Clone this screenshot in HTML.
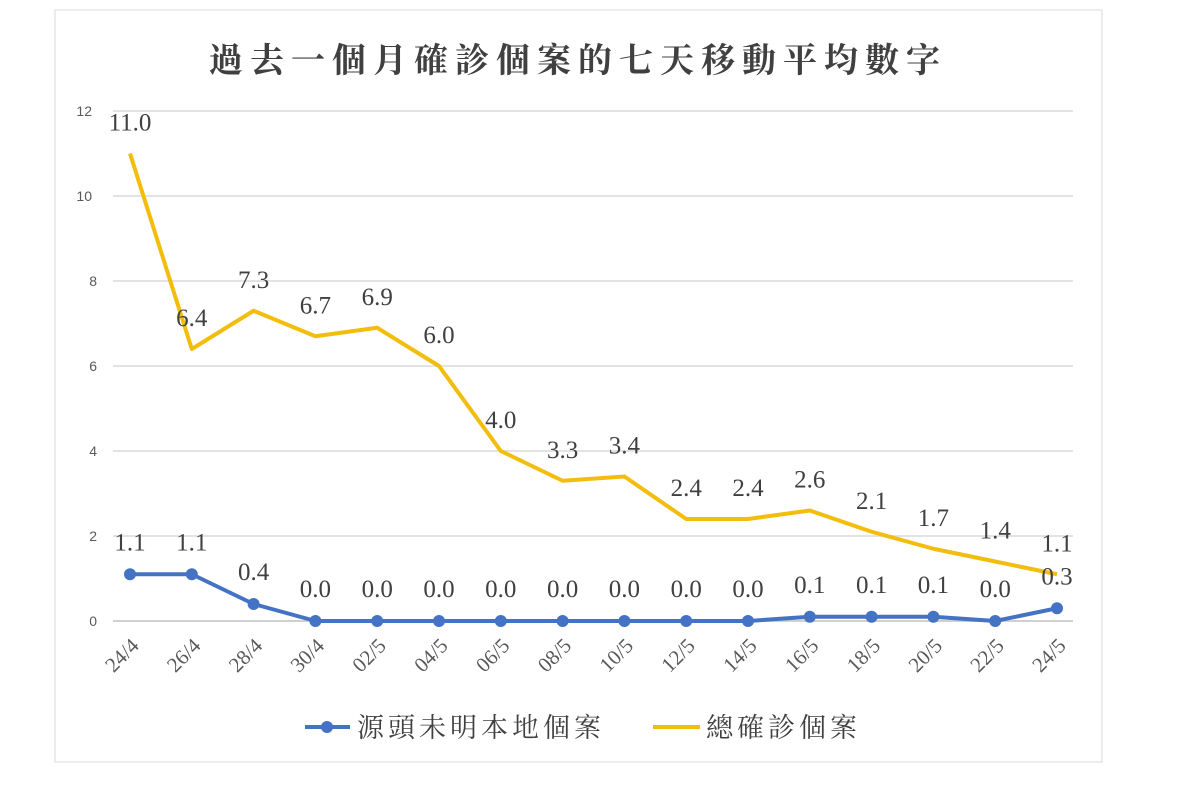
<!DOCTYPE html>
<html><head><meta charset="utf-8"><style>
body{margin:0;background:#fff;width:1199px;height:800px;overflow:hidden}
svg{display:block}
</style></head><body>
<svg width="1199" height="800">
<rect x="55" y="10" width="1047" height="752" fill="#fff" stroke="#d9d9d9"/>
<text x="578" y="72" text-anchor="middle" font-family="'Liberation Serif','Noto Serif CJK SC',serif" font-weight="bold" font-size="34" fill="#404040" letter-spacing="7">過去一個月確診個案的七天移動平均數字</text>
<g id="grid"></g><g id="ylab"></g><g id="xlab"></g><g id="lines"></g><g id="vals"></g>
<g>
<g>
<line x1="305" y1="727" x2="350" y2="727" stroke="#4472c4" stroke-width="4"/>
<circle cx="327" cy="727" r="6" fill="#4472c4"/>
<text x="357" y="737" font-family="'Liberation Serif','Noto Serif CJK TC',serif" font-size="27" letter-spacing="4" fill="#404040">源頭未明本地個案</text></g>
<g>
<line x1="653" y1="727" x2="700" y2="727" stroke="#f2bd0d" stroke-width="4"/>
<text x="706" y="737" font-family="'Liberation Serif','Noto Serif CJK TC',serif" font-size="27" letter-spacing="4" fill="#404040">總確診個案</text></g>
</g>
</svg>
<script>
const categories=["24/4","26/4","28/4","30/4","02/5","04/5","06/5","08/5","10/5","12/5","14/5","16/5","18/5","20/5","22/5","24/5"];
const unknownSource=[1.1,1.1,0.4,0,0,0,0,0,0,0,0,0.1,0.1,0.1,0.0,0.3];
const totalCases=[11.0,6.4,7.3,6.7,6.9,6.0,4.0,3.3,3.4,2.4,2.4,2.6,2.1,1.7,1.4,1.1];
const yTicks=[0,2,4,6,8,10,12];
const NS="http://www.w3.org/2000/svg";
const x0=130,dx=61.8,y0=621,ky=42.5;
const X=i=>x0+i*dx, Y=v=>y0-v*ky;
function mk(tag,parent,attrs){const e=document.createElementNS(NS,tag);for(const k in attrs)e.setAttribute(k,attrs[k]);document.getElementById(parent).appendChild(e);return e;}
yTicks.forEach(t=>{
 const g=mk('line','grid',{x1:113,x2:1073,y1:Y(t),y2:Y(t),stroke:t==0?'#d0d0d0':'#e3e3e3','stroke-width':2});
 
 
 const l=mk('text','ylab',{x:t>=10?92:97,y:Y(t)+5,'text-anchor':'end','font-family':'Liberation Sans,sans-serif','font-size':14,fill:'#595959'});
 l.textContent=t;
 
 
});
categories.forEach((c,i)=>{
 const ax=X(i)+10, ay=y0+26;
 const t=mk('text','xlab',{x:ax,y:ay,'text-anchor':'end','font-family':'Liberation Serif,serif','font-size':21,fill:'#595959',transform:`rotate(-45 ${ax} ${ay})`});
 t.textContent=c;
 
 
});
function series(vals,color,name,dots,off){
 const p=mk('polyline','lines',{points:vals.map((v,i)=>X(i)+','+Y(v)).join(' '),fill:'none',stroke:color,'stroke-width':4,'stroke-linejoin':'round'});
 
 
 vals.forEach((v,i)=>{
  if(dots){const c=mk('circle','lines',{cx:X(i),cy:Y(v),r:6,fill:color});
   
   }
  const t=mk('text','vals',{x:X(i),y:Y(v)-off,'text-anchor':'middle','font-family':'Liberation Serif,serif','font-size':25,fill:'#404040'});
  t.textContent=v.toFixed(1);
  
  
 });
}
series(totalCases,'#f2bd0d','total-cases',false,23);
series(unknownSource,'#4472c4','unknown-source',true,24);
</script>
</body></html>
